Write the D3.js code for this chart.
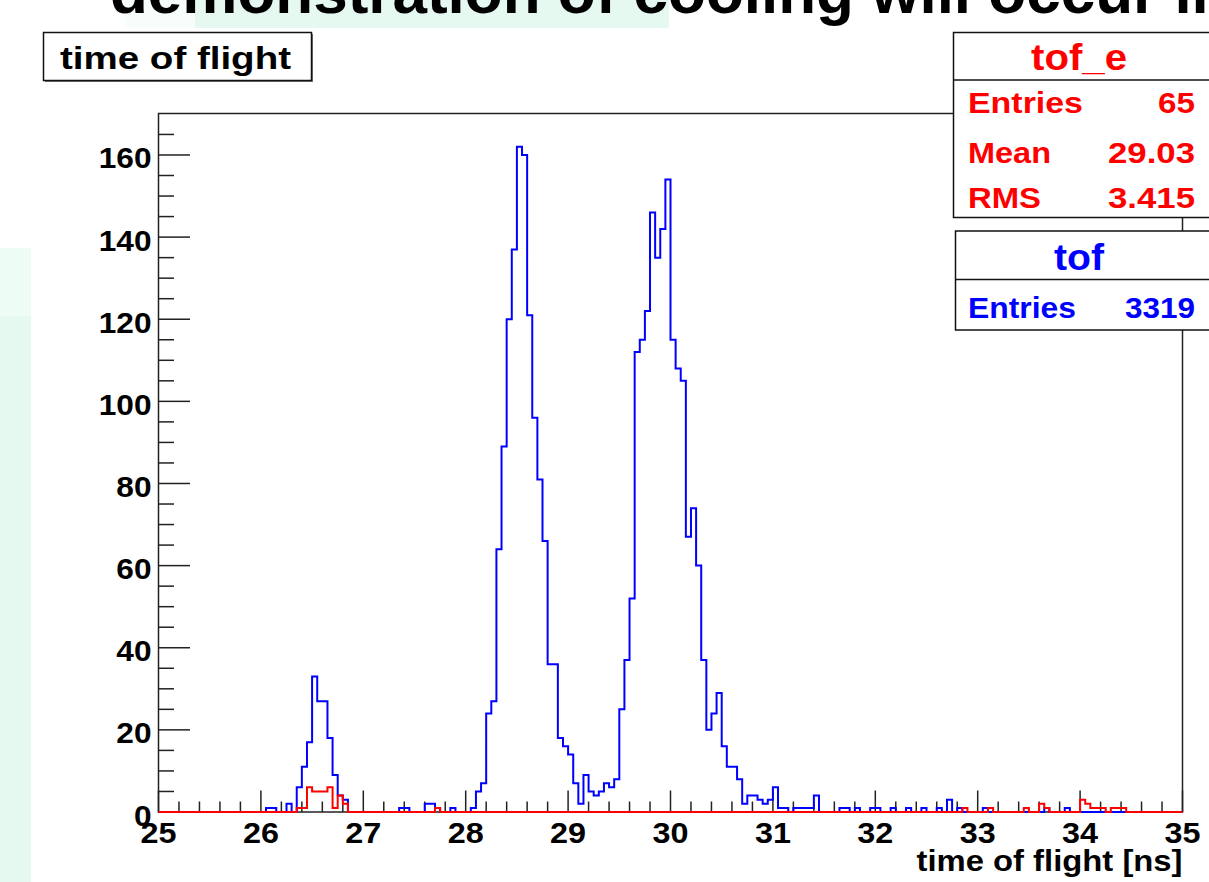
<!DOCTYPE html>
<head>
  <meta charset="utf-8">
  <script src="https://d3js.org/d3.v7.min.js"></script>
  <style>
    body { margin:0; background:#fff; overflow:hidden; }
    text { font-family: 'Liberation Sans', Arial, Helvetica, sans-serif; font-weight: 700; }
    .hist { fill: none; stroke-width: 2; stroke-linejoin: miter; }
    .frame { fill: none; stroke: #222; stroke-width: 1.5; }
    .tick { stroke: #222; stroke-width: 1.5; }
    .box { fill: #fff; stroke: #111; stroke-width: 1.5; }
  </style>
</head>
<body>
  <script>
    // histogram range (ns) and y range (counts)
    var tofRange = [25, 35];
    var countRange = [0, 170.1];

    // tof : 200 bins of 0.05 ns, 25 -> 35 ns
    var tofCounts = [
      0, 0, 0, 0, 0, 0, 0, 0, 0, 0, 0, 0, 0, 0, 0, 0, 0, 0, 0, 0,
      0, 1, 1, 0, 0, 2, 0, 6, 11, 17, 33, 27, 27, 18, 9, 4, 3, 0, 0, 0,
      0, 0, 0, 0, 0, 0, 0, 1, 1, 0, 0, 0, 2, 2, 1, 0, 0, 1, 0, 0,
      0, 1, 5, 7, 24, 27, 64, 89, 120, 137, 162, 160, 121, 96, 81, 66, 36, 36, 18, 16,
      14, 7, 2, 9, 5, 4, 5, 7, 6, 8, 25, 37, 52, 112, 115, 122, 146, 135, 142, 154,
      115, 108, 105, 67, 74, 60, 37, 20, 24, 29, 16, 11, 11, 8, 2, 4, 4, 3, 2, 3,
      6, 1, 1, 0, 1, 1, 1, 1, 4, 0, 0, 0, 0, 1, 1, 0, 1, 0, 0, 1,
      1, 0, 0, 1, 0, 0, 1, 0, 0, 1, 0, 0, 1, 0, 3, 0, 1, 0, 0, 0,
      0, 1, 0, 0, 0, 0, 0, 0, 0, 0, 0, 0, 0, 1, 0, 0, 0, 1, 0, 0,
      0, 0, 0, 0, 0, 0, 0, 0, 0, 0, 0, 0, 0, 0, 0, 0, 0, 0, 0, 0
    ];

    // tof_e : same binning
    var tofECounts = [
      0, 0, 0, 0, 0, 0, 0, 0, 0, 0, 0, 0, 0, 0, 0, 0, 0, 0, 0, 0,
      0, 0, 0, 0, 0, 0, 0, 1, 1, 6, 5, 5, 5, 6, 1, 4, 2, 0, 0, 0,
      0, 0, 0, 0, 0, 0, 0, 0, 0, 0, 0, 0, 0, 0, 1, 0, 0, 0, 0, 0,
      0, 0, 0, 0, 0, 0, 0, 0, 0, 0, 0, 0, 0, 0, 0, 0, 0, 0, 0, 0,
      0, 0, 0, 0, 0, 0, 0, 0, 0, 0, 0, 0, 0, 0, 0, 0, 0, 0, 0, 0,
      0, 0, 0, 0, 0, 0, 0, 0, 0, 0, 0, 0, 0, 0, 0, 0, 0, 0, 0, 0,
      0, 0, 0, 0, 0, 0, 0, 0, 0, 0, 0, 0, 0, 0, 0, 0, 0, 0, 0, 0,
      0, 0, 0, 0, 0, 0, 0, 0, 0, 0, 0, 0, 0, 0, 0, 0, 0, 1, 0, 0,
      0, 0, 1, 0, 0, 0, 0, 0, 0, 1, 0, 0, 2, 1, 0, 0, 0, 0, 0, 0,
      3, 2, 1, 1, 1, 0, 1, 1, 1, 0, 0, 0, 0, 0, 0, 0, 0, 0, 0, 0
    ];

    var xTickLabels = [25, 26, 27, 28, 29, 30, 31, 32, 33, 34, 35];
    var yTickLabels = [0, 20, 40, 60, 80, 100, 120, 140, 160];

    var histTitle = "time of flight";
    var xTitle = "time of flight [ns]";
    var slideTitle = "demonstration of cooling will occur in";

    var tofEName = "tof_e";
    var tofEStats = [["Entries", "65"], ["Mean", "29.03"], ["RMS", "3.415"]];
    var tofName = "tof";
    var tofStats = [["Entries", "3319"]];

    var W = 1209, H = 882;
    var frame = {left: 158.5, right: 1182.5, top: 113.5, bottom: 812};

    var svg = d3.select("body").append("svg")
        .attr("width", W)
        .attr("height", H);

    // --- slide leftovers behind the canvas
    svg.append("rect").attr("x", 125).attr("y", 0).attr("width", 70).attr("height", 28).attr("fill", "#f6fdfa");
    svg.append("rect").attr("x", 195).attr("y", 0).attr("width", 474).attr("height", 28).attr("fill", "#e6f9f0");
    svg.append("rect").attr("x", 0).attr("y", 248).attr("width", 31).attr("height", 68).attr("fill", "#eefcf6");
    svg.append("rect").attr("x", 0).attr("y", 316).attr("width", 31).attr("height", H - 316).attr("fill", "#e6f9f0");
    svg.append("text")
        .attr("x", 110).attr("y", 13)
        .style("font-size", "62px")
        .attr("fill", "#000")
        .text(slideTitle);

    var x = d3.scaleLinear().domain(tofRange).range([frame.left, frame.right]);
    var y = d3.scaleLinear().domain(countRange).range([frame.bottom, frame.top]);

    var nBins = tofCounts.length;
    var binW = (tofRange[1] - tofRange[0]) / nBins;

    function stepPoints(counts) {
      var pts = [[tofRange[0], 0]];
      counts.forEach(function(c, i) { pts.push([tofRange[0] + i * binW, c]); });
      pts.push([tofRange[1], counts[counts.length - 1]]);
      pts.push([tofRange[1], 0]);
      return pts;
    }

    var line = d3.line()
        .x(d => x(d[0]))
        .y(d => y(d[1]))
        .curve(d3.curveStepAfter);

    // frame
    svg.append("rect")
        .attr("class", "frame")
        .attr("x", frame.left).attr("y", frame.top)
        .attr("width", frame.right - frame.left)
        .attr("height", frame.bottom - frame.top);

    // y ticks (inside, on the left)
    var yMinor = d3.range(0, 170, 5);
    svg.append("g").selectAll("line")
      .data(yMinor)
      .enter().append("line")
        .attr("class", "tick")
        .attr("x1", frame.left)
        .attr("x2", d => frame.left + (d % 20 === 0 ? 31.5 : 15.5))
        .attr("y1", d => y(d))
        .attr("y2", d => y(d));

    // x ticks (inside, at the bottom)
    var xMinor = d3.range(0, 51).map(i => tofRange[0] + i * 0.2);
    svg.append("g").selectAll("line")
      .data(xMinor)
      .enter().append("line")
        .attr("class", "tick")
        .attr("x1", d => x(d))
        .attr("x2", d => x(d))
        .attr("y1", frame.bottom)
        .attr("y2", (d, i) => frame.bottom - (i % 5 === 0 ? 21.5 : 10.5));

    // histograms
    svg.append("path")
        .attr("class", "hist")
        .attr("stroke", "#0000ff")
        .attr("d", line(stepPoints(tofCounts)));

    svg.append("path")
        .attr("class", "hist")
        .attr("stroke", "#ff0000")
        .attr("d", line(stepPoints(tofECounts)));

    // axis labels
    svg.append("g").selectAll("text")
      .data(yTickLabels)
      .enter().append("text")
        .attr("x", 151.5)
        .attr("y", d => y(d) + 13.5)
        .attr("text-anchor", "end")
        .attr("textLength", d => String(d).length * 17.6)
        .attr("lengthAdjust", "spacingAndGlyphs")
        .style("font-size", "29px")
        .text(d => d);

    svg.append("g").selectAll("text")
      .data(xTickLabels)
      .enter().append("text")
        .attr("x", d => x(d))
        .attr("y", 843)
        .attr("text-anchor", "middle")
        .attr("textLength", d => String(d).length * 18)
        .attr("lengthAdjust", "spacingAndGlyphs")
        .style("font-size", "29px")
        .text(d => d);

    svg.append("text")
        .attr("x", frame.right)
        .attr("y", 871)
        .attr("text-anchor", "end")
        .attr("textLength", 266)
        .attr("lengthAdjust", "spacingAndGlyphs")
        .style("font-size", "29px")
        .text(xTitle);

    // title box
    svg.append("rect").attr("x", 45).attr("y", 34).attr("width", 268).attr("height", 48).attr("fill", "#777");
    svg.append("rect").attr("class", "box")
        .attr("x", 43.5).attr("y", 32.5).attr("width", 268).attr("height", 48);
    svg.append("text")
        .attr("x", 60).attr("y", 69)
        .attr("textLength", 231)
        .attr("lengthAdjust", "spacingAndGlyphs")
        .style("font-size", "31px")
        .text(histTitle);

    // stats boxes
    function statsBox(top, bottom, left, headerY, name, nameW, rows, rowY, colour, labelW, valueW) {
      var g = svg.append("g");
      g.append("rect").attr("class", "box")
          .attr("x", left).attr("y", top)
          .attr("width", W + 10 - left).attr("height", bottom - top);
      g.append("line")
          .attr("x1", left).attr("x2", W + 10)
          .attr("y1", headerY).attr("y2", headerY)
          .attr("stroke", "#111").attr("stroke-width", 1.5);
      g.append("text")
          .attr("x", 1079).attr("y", headerY - 10)
          .attr("text-anchor", "middle")
          .attr("fill", colour)
          .attr("textLength", nameW)
          .attr("lengthAdjust", "spacingAndGlyphs")
          .style("font-size", "36px")
          .text(name);
      rows.forEach(function(r, i) {
        g.append("text")
            .attr("x", 968).attr("y", rowY[i])
            .attr("fill", colour)
            .attr("textLength", labelW[i])
            .attr("lengthAdjust", "spacingAndGlyphs")
            .style("font-size", "30px")
            .text(r[0]);
        g.append("text")
            .attr("x", 1195).attr("y", rowY[i])
            .attr("text-anchor", "end")
            .attr("fill", colour)
            .attr("textLength", valueW[i])
            .attr("lengthAdjust", "spacingAndGlyphs")
            .style("font-size", "30px")
            .text(r[1]);
      });
    }

    statsBox(32.5, 217.5, 953.5, 80, tofEName, 96, tofEStats, [113, 163, 208], "#ff0000",
             [115, 83, 73], [37, 87, 87]);
    statsBox(231, 330, 955.5, 279.5, tofName, 50, tofStats, [318], "#0000ff",
             [108], [70]);
  </script>
</body>
